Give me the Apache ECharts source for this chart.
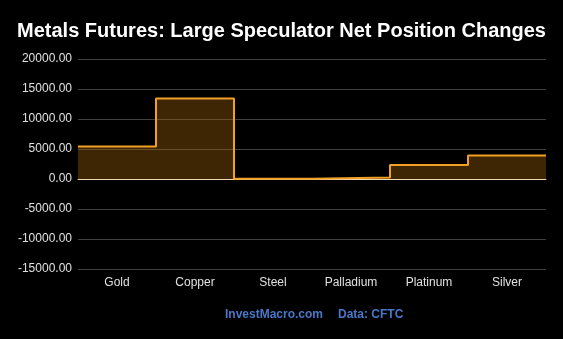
<!DOCTYPE html>
<html><head><meta charset="utf-8">
<script src="https://cdn.jsdelivr.net/npm/echarts@6/dist/echarts.min.js"></script>
<style>html,body{margin:0;padding:0;background:#000}#c{width:563px;height:339px}</style>
</head><body><div id="c"></div>
<script>
const categories = ['Gold','Copper','Steel','Palladium','Platinum','Silver'];
const netChange = [5400, 13400, 50, 250, 2350, 3900];
const yTicks = {min: -15000, max: 20000, interval: 5000};
const titleText = 'Metals Futures: Large Speculator Net Position Changes';
const footerSite = 'InvestMacro.com';
const footerSource = 'Data: CFTC';

const stepData = netChange.map((v, i) => [i - 0.5, v]);
stepData.push([categories.length - 0.5, netChange[netChange.length - 1]]);

const font = 'Liberation Sans, Arial, sans-serif';
const chart = echarts.init(document.getElementById('c'));
chart.setOption({
  backgroundColor: '#000',
  animation: false,
  title: {
    text: titleText, left: 'center', top: 16,
    textStyle: {color: '#fff', fontSize: 20, fontWeight: 'bold', fontFamily: font}
  },
  graphic: [
    {type: 'text', left: 225, top: 309, style: {text: footerSite, fill: '#4a78c8', font: 'bold 12px ' + font}},
    {type: 'text', left: 338, top: 309, style: {text: footerSource, fill: '#4a78c8', font: 'bold 12px ' + font}}
  ],
  grid: {left: 78, right: 17, top: 59, bottom: 70},
  xAxis: [{
    type: 'category', data: categories, boundaryGap: true, position: 'bottom',
    axisLine: {show: false, onZero: false}, axisTick: {show: false},
    axisLabel: {color: '#e0e0e0', fontSize: 12, margin: 8, fontFamily: font},
    splitLine: {show: false}
  }, {
    type: 'value', min: -0.5, max: categories.length - 0.5, position: 'bottom',
    axisLine: {show: true, onZero: true, lineStyle: {color: '#f0d8b0', width: 1}},
    axisTick: {show: false}, axisLabel: {show: false}, splitLine: {show: false}
  }],
  yAxis: {
    type: 'value', min: yTicks.min, max: yTicks.max, interval: yTicks.interval,
    axisLine: {show: false}, axisTick: {show: false},
    axisLabel: {color: '#e0e0e0', fontSize: 12, margin: 6, formatter: v => v.toFixed(2), fontFamily: font},
    splitLine: {lineStyle: {color: '#404040', width: 1}}
  },
  series: [{
    type: 'line', xAxisIndex: 1, step: 'end', data: stepData,
    symbol: 'none',
    lineStyle: {color: '#f2a024', width: 2},
    areaStyle: {color: 'rgba(176, 108, 12, 0.5)'}
  }]
});
</script></body></html>
